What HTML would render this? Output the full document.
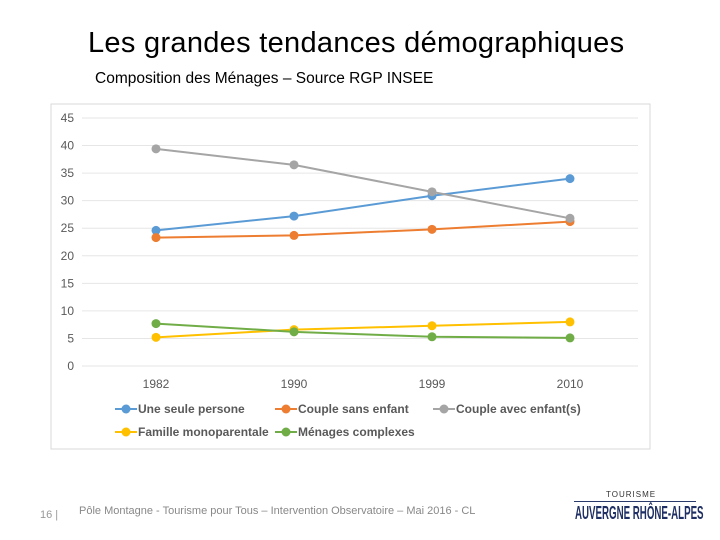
<!DOCTYPE html>
<html><head><meta charset="utf-8"><style>
body{margin:0;width:720px;height:540px;background:#fff;position:relative;overflow:hidden;font-family:"Liberation Sans",sans-serif}
.t{position:absolute;white-space:nowrap}
</style></head><body>
<div class="t" style="left:88px;top:27px;font-size:29px;color:#000;letter-spacing:0.3px">Les grandes tendances démographiques</div>
<div class="t" style="left:95px;top:70px;font-size:15.5px;color:#000">Composition des Ménages – Source RGP INSEE</div>
<svg style="position:absolute;left:0;top:0" width="720" height="540" id="c"></svg>
<div class="t" style="left:40px;top:509px;font-size:11px;color:#999">16 |</div>
<div class="t" style="left:79px;top:505px;font-size:11px;color:#888">Pôle Montagne - Tourisme pour Tous – Intervention Observatoire – Mai 2016 - CL</div>
<div class="t" style="left:606px;top:490px;font-size:8px;color:#333;letter-spacing:1px">TOURISME</div>
<div style="position:absolute;left:574px;top:501px;width:122px;height:1px;background:#2a3a6a"></div>
<div class="t" style="left:575px;top:503px;font-size:18px;color:#1f2f63;transform:scaleX(0.54);transform-origin:left;font-weight:bold">AUVERGNE RHÔNE-ALPES</div>
<script>
const categories=["1982","1990","1999","2010"];
const seriesNames=["Une seule persone","Couple sans enfant","Couple avec enfant(s)","Famille monoparentale","Ménages complexes"];
const seuleVals=[24.6,27.2,30.9,34.0];
const sansVals=[23.3,23.7,24.8,26.2];
const avecVals=[39.4,36.5,31.6,26.8];
const monoVals=[5.2,6.6,7.3,8.0];
const complexVals=[7.7,6.2,5.3,5.1];
const yTicks=[0,5,10,15,20,25,30,35,40,45];
const colors=["#5b9bd5","#ed7d31","#a5a5a5","#ffc000","#70ad47"];
const svg=document.getElementById('c');const NS='http://www.w3.org/2000/svg';
function mk(t,a,p){const e=document.createElementNS(NS,t);for(const k in a)e.setAttribute(k,a[k]);(p||svg).appendChild(e);return e;}
const x=i=>156+i*138, y=v=>366-v*(248/45);
const box=mk('rect',{x:51,y:104,width:599,height:345,fill:'#fff',stroke:'#d9d9d9'});


yTicks.forEach(v=>{const g=mk('line',{x1:82,x2:638,y1:y(v),y2:y(v),stroke:'#e6e6e6'});


const t=mk('text',{x:74,y:y(v)+4,'text-anchor':'end','font-size':12,fill:'#595959'});t.textContent=v;

});
categories.forEach((c,i)=>{const t=mk('text',{x:x(i),y:388,'text-anchor':'middle','font-size':12,fill:'#595959'});t.textContent=c;

});
[seuleVals,sansVals,avecVals,monoVals,complexVals].forEach((vals,s)=>{
const p=mk('polyline',{points:vals.map((v,i)=>x(i)+','+y(v)).join(' '),fill:'none',stroke:colors[s],'stroke-width':2});


vals.forEach((v,i)=>{const m=mk('circle',{cx:x(i),cy:y(v),r:4.5,fill:colors[s]});

});});
const leg=[[115,409],[275,409],[433,409],[115,432],[275,432]];
seriesNames.forEach((n,s)=>{const [lx,ly]=leg[s];
const g=mk('g',{});


mk('line',{x1:lx,x2:lx+22,y1:ly,y2:ly,stroke:colors[s],'stroke-width':2},g);
mk('circle',{cx:lx+11,cy:ly,r:4.5,fill:colors[s]},g);
const t=mk('text',{x:lx+23,y:ly+4,'font-size':12,'font-weight':'bold',fill:'#595959'},g);t.textContent=n;});
</script>
</body></html>
